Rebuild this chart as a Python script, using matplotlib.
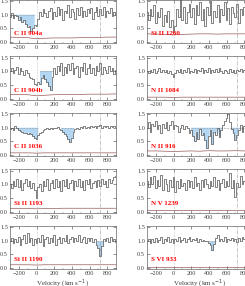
import numpy as np
import matplotlib.pyplot as plt

plt.rcParams['font.family'] = ['Liberation Serif', 'DejaVu Serif']

# Velocity grid (km/s), one flux value per pixel
vel = np.arange(-300, 901, 20)
vel_err = np.arange(-300, 901, 100)

# Normalised flux
c2_904a = [0.92, 1.05, 0.88, 1.0, 0.95, 0.82, 0.9, 0.72, 0.8, 0.65,
           0.55, 0.6, 0.42, 0.5, 0.62, 0.58, 0.85, 1.1, 0.95, 1.2,
           1.05, 0.9, 1.15, 1.25, 0.85, 1.1, 0.95, 1.3, 1.0, 1.2,
           0.8, 1.15, 1.05, 1.35, 0.9, 1.2, 1.1, 0.85, 1.25, 1.0,
           1.3, 0.9, 1.15, 0.95, 1.2, 1.05, 1.25, 0.85, 1.1, 1.3,
           0.95, 1.2, 1.0, 1.3, 0.9, 1.15, 1.05, 1.25, 0.95, 1.1, 1.0]
c2_904b = [1.0, 1.1, 0.95, 1.05, 1.15, 0.9, 1.1, 1.0, 0.85, 1.05,
           0.95, 0.8, 0.75, 0.7, 0.55, 0.48, 0.6, 0.55, 0.75, 0.85,
           0.7, 0.6, 0.45, 0.3, 0.8, 1.1, 0.9, 1.2, 1.0, 1.3,
           0.85, 1.15, 0.95, 1.25, 1.05, 1.3, 0.9, 1.1, 1.2, 0.8,
           1.15, 1.0, 1.3, 0.9, 1.1, 1.25, 0.95, 1.1, 0.85, 1.2,
           1.0, 1.3, 0.9, 1.15, 1.05, 0.95, 1.2, 1.0, 1.1, 0.9, 1.05]
c2_1036 = [0.95, 1.0, 0.92, 1.05, 0.98, 0.9, 0.88, 0.85, 0.82, 0.8,
           0.78, 0.82, 0.76, 0.7, 0.62, 0.6, 0.72, 0.8, 0.85, 0.92,
           0.95, 0.98, 0.96, 1.0, 0.97, 1.0, 0.98, 1.02, 0.96, 0.9,
           0.85, 0.78, 0.7, 0.58, 0.48, 0.62, 0.85, 0.95, 1.0, 0.97,
           1.02, 0.98, 1.05, 1.0, 1.03, 1.0, 1.05, 1.02, 1.08, 1.0,
           1.05, 1.1, 1.0, 1.06, 1.02, 1.08, 1.0, 1.05, 1.03, 1.06, 1.02]
si2_1193 = [1.0, 0.85, 1.1, 0.95, 1.2, 0.9, 1.15, 0.8, 1.05, 1.2,
            0.95, 1.1, 0.85, 1.05, 0.8, 0.5, 0.9, 1.0, 0.75, 1.1,
            0.95, 1.2, 0.8, 1.05, 1.15, 0.85, 1.2, 0.9, 1.1, 0.75,
            1.15, 0.95, 1.2, 0.85, 1.05, 1.15, 0.8, 1.1, 0.95, 1.2,
            0.9, 1.1, 0.8, 1.15, 1.0, 1.2, 0.85, 1.05, 1.1, 0.9,
            1.15, 0.95, 1.2, 1.0, 1.1, 0.9, 1.2, 1.05, 1.15, 1.25, 1.3]
si2_1190 = [1.0, 1.1, 0.9, 1.05, 0.95, 1.15, 0.85, 1.05, 1.2, 0.9,
            1.3, 0.95, 1.1, 0.85, 1.05, 0.9, 1.1, 0.95, 1.2, 0.8,
            1.05, 1.15, 0.9, 1.1, 0.95, 1.2, 0.85, 1.05, 1.15, 0.9,
            1.1, 1.0, 1.2, 0.9, 1.05, 1.15, 0.95, 1.1, 1.0, 1.2,
            0.95, 1.05, 1.15, 0.9, 1.1, 1.0, 1.1, 0.95, 1.05, 0.85,
            0.75, 0.45, 0.8, 1.05, 1.0, 1.1, 0.95, 1.15, 1.0, 1.05, 0.95]
si2_1260 = [1.1, 0.8, 1.2, 0.95, 1.35, 0.7, 1.1, 0.9, 1.25, 0.6,
            1.0, 0.75, 1.15, 0.55, 0.8, 0.35, 0.6, 1.2, 0.9, 1.55,
            0.8, 1.3, 0.7, 1.1, 1.4, 0.9, 1.25, 0.65, 1.35, 1.0,
            1.45, 0.8, 1.2, 0.6, 1.3, 1.0, 1.5, 0.7, 1.15, 0.9,
            1.35, 0.75, 1.2, 1.0, 1.45, 0.8, 1.25, 0.65, 1.3, 1.05,
            0.9, 1.4, 0.7, 1.2, 1.0, 1.3, 0.85, 1.15, 0.95, 1.25, 1.0]
n2_1084 = [1.0, 0.95, 1.05, 0.98, 1.08, 0.92, 1.02, 1.1, 0.96, 1.04,
           0.98, 1.06, 0.94, 1.02, 0.9, 0.78, 0.92, 1.05, 0.96, 1.08,
           0.95, 1.04, 0.98, 1.1, 0.94, 1.02, 0.96, 1.08, 0.92, 1.05,
           1.0, 1.1, 0.95, 1.06, 0.98, 1.12, 0.94, 1.04, 0.98, 1.08,
           0.96, 1.1, 1.0, 0.93, 1.06, 1.02, 0.95, 1.08, 0.98, 1.04,
           0.94, 1.06, 1.0, 1.08, 0.96, 1.04, 0.98, 1.06, 1.0, 1.02, 0.98]
n2_916 = [1.0, 1.2, 0.85, 1.15, 1.05, 1.25, 0.95, 1.1, 0.8, 1.15,
          1.0, 1.2, 0.9, 1.1, 1.25, 0.95, 1.1, 1.05, 0.85, 1.0,
          1.1, 0.95, 1.05, 1.0, 0.8, 0.9, 0.7, 0.5, 0.85, 0.6,
          0.95, 0.75, 0.8, 0.55, 0.25, 0.7, 0.9, 0.4, 0.85, 0.75,
          1.0, 0.65, 0.9, 1.1, 1.25, 1.35, 1.5, 1.2, 0.95, 0.8,
          0.55, 0.75, 0.9, 1.1, 0.85, 1.05, 0.9, 1.15, 0.95, 1.05, 1.0]
n5_1239 = [1.1, 0.9, 1.25, 1.0, 1.3, 0.85, 1.15, 0.95, 1.35, 0.8,
           1.2, 1.0, 0.75, 1.15, 0.9, 1.25, 0.7, 1.1, 0.85, 1.2,
           0.95, 1.05, 0.8, 1.15, 0.9, 1.1, 0.85, 1.25, 0.95, 1.05,
           0.8, 1.15, 0.9, 1.2, 1.0, 0.85, 1.1, 0.95, 1.25, 0.9,
           1.15, 0.8, 1.05, 1.2, 0.9, 1.1, 0.95, 1.4, 0.85, 1.15,
           0.55, 1.05, 0.9, 1.3, 1.0, 1.1, 0.9, 1.2, 1.0, 0.95, 1.1]
s6_933 = [1.0, 1.05, 0.92, 1.08, 0.96, 1.1, 0.95, 1.02, 1.15, 0.9,
          1.05, 0.98, 1.12, 0.94, 1.06, 0.92, 1.08, 1.0, 1.14, 0.96,
          1.04, 1.1, 0.94, 1.06, 1.12, 0.98, 1.08, 1.02, 1.1, 0.96,
          1.05, 1.0, 1.02, 0.98, 1.0, 0.92, 0.85, 0.65, 0.88, 1.1,
          1.2, 0.98, 1.08, 1.0, 1.12, 0.95, 1.06, 1.02, 1.1, 0.98,
          1.08, 0.96, 1.1, 1.0, 1.12, 1.05, 0.98, 1.08, 1.02, 1.0, 1.04]

# Error spectra, sampled every 100 km/s
err_c2_904a = [0.18, 0.17, 0.16, 0.12, 0.14, 0.15, 0.15, 0.15, 0.16, 0.16, 0.17, 0.18, 0.18]
err_c2_904b = [0.15, 0.15, 0.14, 0.1, 0.12, 0.14, 0.15, 0.15, 0.15, 0.16, 0.16, 0.16, 0.17]
err_c2_1036 = [0.08, 0.08, 0.08, 0.07, 0.08, 0.08, 0.08, 0.08, 0.08, 0.08, 0.08, 0.08, 0.08]
err_si2_1193 = [0.11, 0.11, 0.11, 0.1, 0.11, 0.11, 0.12, 0.12, 0.12, 0.12, 0.12, 0.12, 0.12]
err_si2_1190 = [0.12, 0.12, 0.12, 0.11, 0.12, 0.12, 0.12, 0.12, 0.12, 0.12, 0.12, 0.12, 0.12]
err_si2_1260 = [0.3, 0.29, 0.28, 0.26, 0.28, 0.29, 0.3, 0.3, 0.29, 0.3, 0.3, 0.3, 0.3]
err_n2_1084 = [0.05, 0.05, 0.05, 0.04, 0.05, 0.05, 0.05, 0.05, 0.05, 0.05, 0.05, 0.05, 0.05]
err_n2_916 = [0.15, 0.15, 0.14, 0.13, 0.14, 0.15, 0.14, 0.16, 0.15, 0.15, 0.16, 0.15, 0.15]
err_n5_1239 = [0.05, 0.05, 0.05, 0.05, 0.05, 0.05, 0.05, 0.05, 0.05, 0.05, 0.05, 0.05, 0.05]
err_s6_933 = [0.05, 0.05, 0.05, 0.05, 0.05, 0.05, 0.05, 0.05, 0.05, 0.05, 0.05, 0.05, 0.05]

labels_left = ['C II 904a', 'C II 904b', 'C II 1036', 'Si II 1193', 'Si II 1190']
labels_right = ['Si II 1260', 'N II 1084', 'N II 916', 'N V 1239', 'S VI 933']
flux_left = [c2_904a, c2_904b, c2_1036, si2_1193, si2_1190]
flux_right = [si2_1260, n2_1084, n2_916, n5_1239, s6_933]
err_left = [err_c2_904a, err_c2_904b, err_c2_1036, err_si2_1193, err_si2_1190]
err_right = [err_si2_1260, err_n2_1084, err_n2_916, err_n5_1239, err_s6_933]
# absorption windows that are shaded (km/s)
shade_left = [[(-260, -20)], [(40, 190)], [(-260, 20), (280, 420)], [], [(680, 760)]]
shade_right = [[], [], [(200, 900)], [], [(390, 480)]]

v_other = 720  # second system marker

W, H = 245, 286
fig = plt.figure(figsize=(W / 100, H / 100), dpi=100)


def panel(x0, row, flux, err, label, shades):
    top = -0.3 + 56.5 * row
    ax = fig.add_axes([x0 / W, 1 - (top + 43.7) / H, 106 / W, 43.7 / H])
    flux = np.array(flux)
    for a, b in shades:
        m = (vel >= a) & (vel <= b)
        ax.fill_between(vel[m], flux[m], 1.0, where=flux[m] < 1.0, step='mid',
                        color='#b3d6f2', lw=0, interpolate=True)
        ax.plot([a, b], [1, 1], color='0.6', lw=0.4, ls='--')
    ax.plot(vel, flux, color='0.3', lw=0.5, drawstyle='steps-mid')
    ax.plot(vel_err, err, color='#9a5a5a', lw=0.5)
    ax.axvline(0, color='0.6', lw=0.4, ls=':')
    ax.axvline(v_other, color='0.6', lw=0.4, ls='-.')
    ax.set_xlim(-300, 900)
    ax.set_ylim(-0.05, 1.55)
    ax.set_xticks([-200, 0, 200, 400, 600, 800])
    ax.set_yticks([0.0, 0.5, 1.0, 1.5])
    ax.set_xticks(np.arange(-300, 901, 100), minor=True)
    ax.tick_params(direction='in', top=True, right=True, labelsize=4.5,
                   length=2, width=0.4, pad=1.5, which='major', colors='0.25')
    ax.tick_params(direction='in', top=True, right=True, length=1, width=0.3,
                   which='minor', colors='0.4')
    for s in ax.spines.values():
        s.set_linewidth(0.5)
        s.set_color('0.4')
    ax.text(-260, 0.3, label, color='red', fontsize=5, fontweight='bold', va='center')
    if row == 4:
        ax.set_xlabel('Velocity (km s$^{-1}$)', fontsize=5, labelpad=1, color='0.25')
    return ax


for i in range(5):
    panel(10, i, flux_left[i], err_left[i], labels_left[i], shade_left[i])
    panel(147, i, flux_right[i], err_right[i], labels_right[i], shade_right[i])

fig.savefig('out.png', dpi=100)
